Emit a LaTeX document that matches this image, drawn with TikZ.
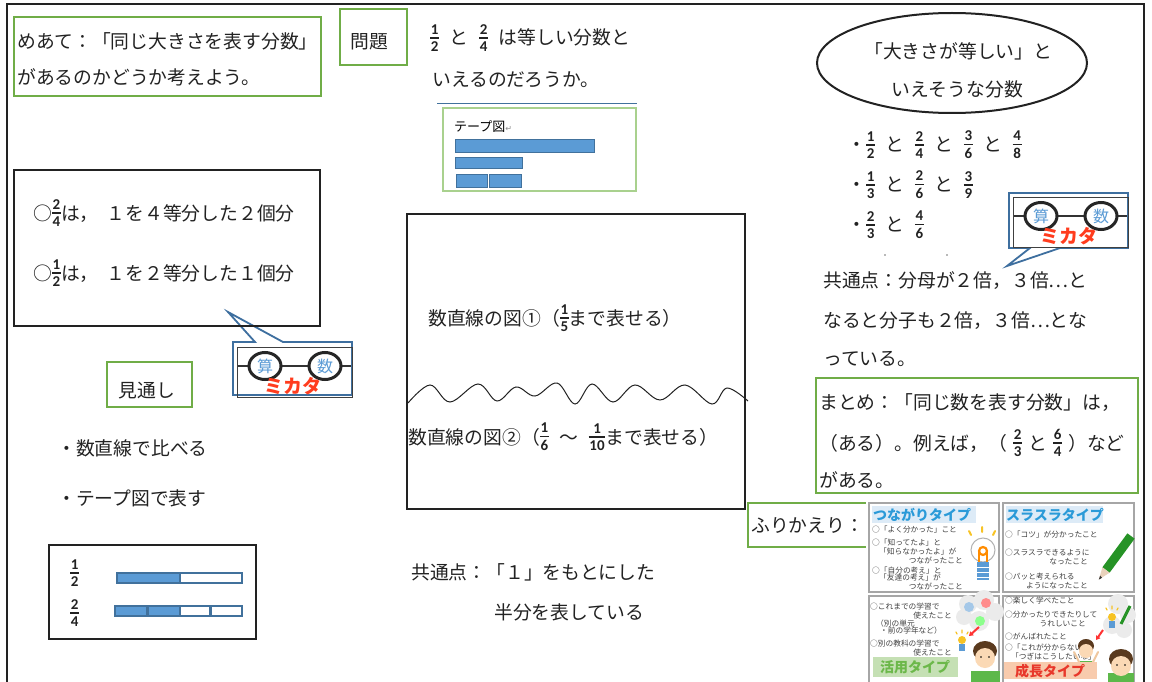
\documentclass[tikz,border=0pt]{standalone}
\usepackage{fontspec}
\setmainfont{Noto Sans CJK JP}
\newfontfamily\fracdigits{Carlito}
\newfontfamily\markfont{DejaVu Sans}
\usetikzlibrary{shapes.geometric,arrows.meta}

\definecolor{gGreen}{HTML}{70AD47}
\definecolor{tapeGreen}{HTML}{A9D18E}
\definecolor{tBlue}{HTML}{5B9BD5}
\definecolor{tEdge}{HTML}{41719C}
\definecolor{cBlue}{HTML}{3E6F9F}
\definecolor{mRed}{HTML}{FF3C1E}
\definecolor{ink}{HTML}{222222}
\definecolor{titleBlue}{HTML}{2A9AD8}
\definecolor{bandBlue}{HTML}{DDEBF7}
\definecolor{bandGreen}{HTML}{C5E0B4}
\definecolor{titleGreen}{HTML}{6CB84A}
\definecolor{bandPeach}{HTML}{F8CBAD}
\definecolor{titleRed}{HTML}{E8382B}
\definecolor{skin}{HTML}{FBD9B5}
\definecolor{hair}{HTML}{5A3A1E}
\definecolor{shirt}{HTML}{5DB84A}
\definecolor{bulbYellow}{HTML}{F7C325}

% small stacked fraction with sans digits, bar near the middle of the text line
\newcommand\fr[2]{\begingroup\fracdigits\bfseries\fontsize{15}{15}\selectfont
  \setbox0\hbox{#1}\setbox2\hbox{#2}%
  \ifdim\wd0>\wd2 \dimen0=\wd0 \else \dimen0=\wd2 \fi
  \advance\dimen0 by 1.5pt
  \raisebox{-6.5pt}{\vbox{\offinterlineskip\halign{\hfil##\hfil\cr
    \box0\cr\noalign{\kern3pt}\vrule width\dimen0 height1.3pt depth0pt\cr
    \noalign{\kern3pt}\box2\cr}}}\endgroup}
\newcommand\hsk{\hspace{10.5pt}}
\newcommand\hsks{\hspace{6pt}}

\tikzset{
  txt/.style={anchor=base west, inner sep=0pt, text=ink, font=\fontsize{18.8}{22}\selectfont},
  ctxt/.style={txt, anchor=base},
  greenbox/.style={draw=gGreen, line width=2pt},
  inkbox/.style={draw=ink, line width=2.2pt},
  tapefill/.style={fill=tBlue, draw=tEdge, line width=1.2pt},
  tapeempty/.style={fill=white, draw=tEdge, line width=1.2pt},
  callout/.style={draw=cBlue, line width=1.8pt, fill=white, line join=miter},
  tiny/.style={anchor=base west, inner sep=0pt, text=black!75, font=\fontsize{7.7}{8}\selectfont},
  tinyr/.style={tiny, anchor=base east},
  panel/.style={draw=black!35, line width=1.4pt, fill=white},
  banner/.style={inner sep=0pt, font=\bfseries\fontsize{14}{14}\selectfont},
  mikata/.pic={
    \draw[black!75, line width=0.8pt] (0,0) rectangle (115,50);
    \draw[black!80, line width=2.2pt] (1,19) -- (12,19) (44,19) -- (72,19) (104,19) -- (114,19);
    \draw[black!85, line width=3pt, fill=white] (28,19) ellipse [x radius=16pt, y radius=13.5pt];
    \draw[black!85, line width=3pt, fill=white] (88,19) ellipse [x radius=16pt, y radius=13.5pt];
    \node[inner sep=0pt, text=tBlue, font=\fontsize{16}{16}\selectfont] (-san) at (28,19) {算};
    \node[inner sep=0pt, text=tBlue, font=\fontsize{16}{16}\selectfont] (-suu) at (88,19) {数};
    \node[inner sep=0pt, text=mRed, font=\bfseries\fontsize{19}{19}\selectfont] (-label) at (56,39) {ミカタ};
  }
}

\begin{document}
\begin{tikzpicture}[x=1pt,y=-1pt]
\useasboundingbox (0,0) rectangle (1152,682);
\fill[white] (0,0) rectangle (1152,682);
\clip (0,0) rectangle (1152,682);

% sheet frame
\draw[ink, line width=2.6pt] (7,700) -- (7,4) -- (1144,4) -- (1144,700);

% ---------- goal ----------
\draw[greenbox] (14,17) rectangle (321,96);
\node[txt] (goal1) at (17,49) {めあて：「同じ大きさを表す分数」};
\node[txt] (goal2) at (17,85) {があるのかどうか考えよう。};

% ---------- problem ----------
\draw[greenbox] (340,9) rectangle (407,65);
\node[ctxt] (mondai) at (369,49) {問題};
\node[txt] (q1) at (430,45) {\fr{1}{2}\hsk と\hsk\fr{2}{4}\hsk は等しい分数と};
\node[txt] (q2) at (432,87) {いえるのだろうか。};
\draw[tEdge, line width=1pt] (437,104) -- (637,104);

% tape diagram sketch
\draw[draw=tapeGreen, line width=1.6pt] (443,108) rectangle (636,191);
\node[anchor=base west, inner sep=0pt, text=black, font=\fontsize{13}{13}\selectfont] (tapetitle) at (454,132) {テープ図\textcolor{black!45}{\markfont\fontsize{8}{8}\selectfont ↵}};
\draw[tapefill, line width=0.6pt] (455,139) rectangle (594,152);
\draw[tapefill, line width=0.6pt] (455,157) rectangle (522,168);
\draw[tapefill, line width=0.6pt] (456,174) rectangle (487,187);
\draw[tapefill, line width=0.6pt] (489,174) rectangle (521,187);

% ---------- ellipse and fraction lists ----------
\node[draw=ink, ellipse, line width=2pt, minimum width=270pt, minimum height=100pt, inner sep=0pt] (ell) at (952,63) {};
\node[txt] (ell1) at (864,59) {「大きさが等しい」と};
\node[txt] (ell2) at (891,97) {いえそうな分数};
\node[txt] (row1) at (847,152) {・\fr{1}{2}\hsk と\hsk\fr{2}{4}\hsk と\hsk\fr{3}{6}\hsk と\hsk\fr{4}{8}};
\node[txt] (row2) at (847,192) {・\fr{1}{3}\hsk と\hsk\fr{2}{6}\hsk と\hsk\fr{3}{9}};
\node[txt] (row3) at (847,232) {・\fr{2}{3}\hsk と\hsk\fr{4}{6}};
\fill[black!55] (885,255) circle (0.8pt) (947,255) circle (0.8pt);

% ---------- right callout ----------
\draw[callout] (1009,193) -- (1128,193) -- (1128,248) -- (1060,248) -- (1007,266) -- (1030,248) -- (1009,248) -- cycle;
\pic (glassR) at (1013,197) {mikata};

\node[txt] (common1) at (823,287) {共通点：分母が２倍，３倍…と};
\node[txt] (common2) at (823,327) {なると分子も２倍，３倍…とな};
\node[txt] (common3) at (823,365) {っている。};

% ---------- summary ----------
\draw[greenbox] (816,378) rectangle (1138,493);
\node[txt] (sum1) at (819,409) {まとめ：「同じ数を表す分数」は，};
\node[txt] (sum2) at (819,450) {（ある）。例えば，（\hsks\fr{2}{3}\hsks と\hsks\fr{6}{4}\hsks）など};
\node[txt] (sum3) at (819,487) {がある。};

% ---------- left explanation box with callout ----------
\draw[callout] (233,342) -- (255,342) -- (228,312) -- (283,342) -- (352,342) -- (352,395) -- (233,395) -- cycle;
\pic (glassL) at (237,347) {mikata};
\draw[inkbox] (14,170) rectangle (320,326);
\node[txt] (expl1) at (33,220) {○\fr{2}{4}は，\hspace{8pt}１を４等分した２個分};
\node[txt] (expl2) at (33,280) {○\fr{1}{2}は，\hspace{8pt}１を２等分した１個分};

% ---------- outlook ----------
\draw[greenbox] (107,362) rectangle (192,407);
\node[ctxt] (mitoshi) at (147,397) {見通し};
\node[txt] (way1) at (57,455) {・数直線で比べる};
\node[txt] (way2) at (57,505) {・テープ図で表す};

% tape comparison box
\draw[inkbox] (49,545) rectangle (256,639);
\node[txt] (half) at (70,580) {\fr{1}{2}};
\node[txt] (quarter) at (70,620) {\fr{2}{4}};
\draw[tapefill] (117,573) rectangle (180,583);
\draw[tapeempty] (180,573) rectangle (242,583);
\draw[tapefill] (115,606) rectangle (147,616);
\draw[tapefill] (148,606) rectangle (180,616);
\draw[tapeempty] (180,606) rectangle (210,616);
\draw[tapeempty] (211,606) rectangle (242,616);

% ---------- number line box ----------
\draw[inkbox] (407,214) rectangle (745,509);
\node[txt] (nl1) at (428,325) {数直線の図①（\fr{1}{5}まで表せる）};
\draw[ink, line width=1pt] plot[smooth, tension=0.6] coordinates {
  (408,403) (430,385) (450,402) (478,384) (497,401) (516,387) (535,396)
  (557,383) (575,404) (592,384) (613,402) (635,385) (660,400) (685,385)
  (712,404) (727,388) (748,401)};
\node[txt] (nl2) at (408,444) {数直線の図②（\fr{1}{6}\hsk 〜\hsk\fr{1}{10}まで表せる）};

\node[txt] (common4) at (411,579) {共通点：「１」をもとにした};
\node[txt] (common5) at (494,619) {半分を表している};

% ---------- reflection ----------
\draw[greenbox] (748,503) rectangle (872,547);
\node[txt] (furi) at (751,532) {ふりかえり：};

% four reflection cards
\fill[white] (866,500) rectangle (1138,682);
\draw[panel] (869,503) rectangle (999,592);
\draw[panel] (1003,503) rectangle (1134,592);
\draw[panel] (869,596) rectangle (999,690);
\draw[panel] (1003,596) rectangle (1134,690);

% card: connection type
\fill[bandBlue] (872,506) rectangle (976,523);
\node[banner, text=titleBlue] (tsunagari) at (922,515) {つながりタイプ};
\node[tiny] (t1) at (872,532) {○「よく分かった」こと};
\node[tiny] (t2) at (872,545) {○「知ってたよ」と};
\node[tiny] (t3) at (879,554) {「知らなかったよ」が};
\node[tinyr] (t4) at (963,563) {つながったこと};
\node[tiny] (t5) at (872,573) {○「自分の考え」と};
\node[tiny] (t6) at (879,580) {「友達の考え」が};
\node[tinyr] (t7) at (963,589) {つながったこと};
\draw[bulbYellow, line width=2pt, line cap=round] (969,531) -- (971,535) (982,527) -- (982,532) (995,531) -- (993,535);
\draw[black!30, fill=white, line width=1pt] (983,550) circle (12pt);
\draw[orange!90!yellow, line width=2.2pt] (983,551) circle (4pt);
\draw[orange!90!yellow, line width=2pt] (979,552) -- (979,562) (987,552) -- (987,562);
\fill[tBlue] (977,562) rectangle (989,580);
\draw[white, line width=0.8pt] (977,567) -- (989,567) (977,572) -- (989,572) (977,577) -- (989,577);

% card: smooth type
\fill[bandBlue] (1006,506) rectangle (1103,523);
\node[banner, text=titleBlue] (surasura) at (1055,515) {スラスラタイプ};
\node[tiny] (s1) at (1005,537) {○「コツ」が分かったこと};
\node[tiny] (s2) at (1005,555) {○スラスラできるように};
\node[tinyr] (s3) at (1088,564) {なったこと};
\node[tiny] (s4) at (1005,579) {○パッと考えられる};
\node[tinyr] (s5) at (1088,588) {ようになったこと};
\draw[green!50!black!85, line width=9pt] (1131,536) -- (1106,570);
\fill[brown!35!white] (1109.6,572.7) -- (1102.4,567.3) -- (1098.8,579.6) -- cycle;
\fill[black!80] (1100.2,575.6) -- (1098.8,579.6) -- (1102,577.8) -- cycle;

% card: application type
\fill[black!8] (968,604) circle (9pt) (984,600) circle (10pt) (995,612) circle (9pt) (979,621) circle (10pt) (964,617) circle (8pt);
\fill[tBlue!55] (969,607) circle (5pt);
\fill[red!45] (986,603) circle (5pt);
\fill[green!45] (980,621) circle (5pt);
\node[tiny] (k1) at (870,609) {○これまでの学習で};
\node[tinyr] (k2) at (952,618) {使えたこと};
\node[tiny] (k3) at (876,626) {（別の単元};
\node[tiny] (k4) at (880,633) {・前の学年など）};
\node[tiny] (k5) at (870,646) {○別の教科の学習で};
\node[tinyr] (k6) at (952,655) {使えたこと};
\draw[bulbYellow, line width=1.2pt, line cap=round] (956,632) -- (957,634) (962,630) -- (962,633) (968,632) -- (967,634);
\fill[bulbYellow] (962,640) circle (4pt);
\fill[tBlue] (959,644) rectangle (965,651);
\draw[red!80, line width=2pt, -{Triangle[length=4pt,width=5pt]}] (979,627) -- (969,636);
\fill[shirt] (971,682) rectangle (1000,671);
\fill[hair] (985,651) ellipse [x radius=12pt, y radius=10pt];
\fill[skin] (985,658) circle (10pt);
\fill[black] (981,657) circle (0.9pt) (989,657) circle (0.9pt);
\fill[bandGreen] (873,657) rectangle (958,677);
\node[banner, text=titleGreen] (katsuyou) at (915,667) {活用タイプ};

% card: growth type
\fill[black!8] (1118,604) circle (10pt) (1128,615) circle (8pt) (1112,625) circle (9pt) (1124,630) circle (8pt);
\draw[bulbYellow, line width=1.2pt, line cap=round] (1106,608) -- (1107,610) (1112,606) -- (1112,609) (1118,608) -- (1117,610);
\fill[bulbYellow] (1112,617) circle (4pt);
\fill[tBlue] (1109,621) rectangle (1115,628);
\draw[green!50!black!85, line width=3pt] (1130,606) -- (1121,624);
\node[tiny] (g1) at (1005,603) {○楽しく学べたこと};
\node[tiny] (g2) at (1005,617) {○分かったりできたりして};
\node[tinyr] (g3) at (1086,626) {うれしいこと};
\node[tiny] (g4) at (1005,639) {○がんばれたこと};
\node[tiny] (g5) at (1005,650) {○「これが分からないな」};
\node[tiny] (g6) at (1011,659) {「つぎはこうしたいな」};
\draw[red!80, line width=2pt, -{Triangle[length=4pt,width=5pt]}] (1103,630) -- (1096,640);
\draw[skin!80!brown, line width=2pt, line cap=round] (1080,664) -- (1074,652) (1092,664) -- (1098,652);
\fill[shirt] (1080,661) rectangle (1092,674);
\fill[hair] (1086,646) ellipse [x radius=8pt, y radius=7pt];
\fill[skin] (1086,651) circle (7pt);
\fill[shirt] (1108,682) rectangle (1134,673);
\fill[hair] (1121,659) ellipse [x radius=12pt, y radius=10pt];
\fill[skin] (1121,666) circle (10pt);
\fill[black] (1117,665) circle (0.9pt) (1125,665) circle (0.9pt);
\fill[bandPeach] (1004,662) rectangle (1097,679);
\node[banner, text=titleRed] (seichou) at (1050,671) {成長タイプ};

\end{tikzpicture}
\end{document}
